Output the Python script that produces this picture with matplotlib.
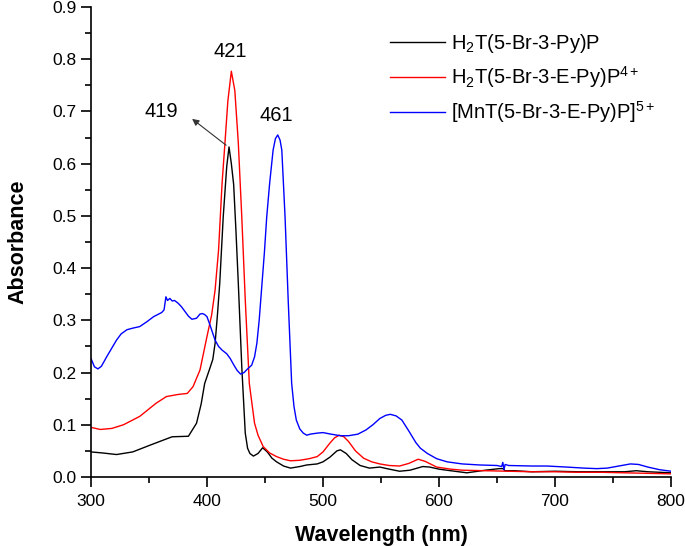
import matplotlib
matplotlib.use("Agg")
import matplotlib.pyplot as plt
from matplotlib.ticker import MultipleLocator

plt.rcParams['font.family'] = ['Liberation Sans', 'DejaVu Sans']
plt.rcParams['mathtext.fontset'] = 'custom'
plt.rcParams['mathtext.rm'] = 'Liberation Sans'
plt.rcParams['mathtext.it'] = 'Liberation Sans:italic'
plt.rcParams['mathtext.bf'] = 'Liberation Sans:bold'

black_wl = [300, 310, 322, 336, 351, 364, 370, 384, 391, 395, 398, 402, 405, 407, 409, 411, 414, 417, 419,
            421, 423, 425, 427, 430, 433, 435, 437, 440, 444, 448, 452, 456, 460, 466, 472, 480, 486, 495,
            500, 506, 512, 515, 520, 525, 532, 540, 549, 555, 566, 575, 586, 592, 600, 610, 624, 640, 652,
            655, 657, 665, 680, 700, 720, 740, 760, 770, 780, 800]
black_abs = [0.048, 0.046, 0.043, 0.048, 0.061, 0.072, 0.077, 0.078, 0.103, 0.140, 0.179, 0.205, 0.225,
             0.256, 0.310, 0.371, 0.498, 0.594, 0.632, 0.600, 0.560, 0.470, 0.371, 0.211, 0.084, 0.055,
             0.045, 0.040, 0.045, 0.056, 0.048, 0.036, 0.029, 0.021, 0.017, 0.020, 0.023, 0.025, 0.029,
             0.038, 0.050, 0.052, 0.045, 0.033, 0.022, 0.017, 0.019, 0.016, 0.011, 0.013, 0.020, 0.019,
             0.015, 0.012, 0.008, 0.013, 0.016, 0.016, 0.012, 0.012, 0.010, 0.011, 0.010, 0.010, 0.010,
             0.012, 0.010, 0.008]

red_wl = [300, 308, 318, 328, 342, 356, 365, 375, 383, 388, 394, 400, 404, 407, 410, 413, 415.5, 418, 421,
          424, 427, 430, 433, 436.5, 441, 444, 448.5, 454, 460, 466, 472, 480, 488, 495, 500, 506, 510, 514,
          518, 522, 528, 535, 542, 549, 557, 566, 574, 582, 588, 598, 610, 620, 640, 660, 680, 700, 720,
          740, 760, 780, 800]
red_abs = [0.095, 0.091, 0.093, 0.100, 0.116, 0.141, 0.154, 0.158, 0.160, 0.173, 0.205, 0.269, 0.310,
           0.358, 0.435, 0.562, 0.640, 0.720, 0.777, 0.740, 0.640, 0.498, 0.339, 0.179, 0.103, 0.080,
           0.058, 0.046, 0.039, 0.034, 0.031, 0.032, 0.035, 0.039, 0.048, 0.065, 0.075, 0.080, 0.077,
           0.068, 0.050, 0.036, 0.029, 0.025, 0.022, 0.021, 0.026, 0.034, 0.030, 0.019, 0.015, 0.013,
           0.012, 0.011, 0.010, 0.010, 0.009, 0.009, 0.008, 0.007, 0.006]

blue_wl = [300, 303, 306, 309, 313.5, 318, 322, 326, 331, 336, 342, 348, 354, 361, 363, 364.6, 366, 368,
           370, 372, 375, 378, 381, 384, 387, 391, 394, 396, 398, 400, 402.6, 405, 407, 410, 413, 417, 420,
           423, 426, 429, 432, 435, 438.5, 441, 443, 445, 447, 449.5, 451.5, 454, 457, 459, 461, 463, 464.5,
           467.3, 470, 473, 475, 477, 480, 483, 486, 489, 495, 500, 507, 515, 522, 530, 537, 543, 549, 554,
           558, 563, 568, 574, 580, 584, 590, 598, 607, 620, 635, 650, 654, 655, 656, 657, 660, 680, 693,
           710, 725, 736, 745, 755, 765, 772, 780, 790, 800]
blue_abs = [0.227, 0.211, 0.207, 0.212, 0.230, 0.247, 0.262, 0.274, 0.282, 0.285, 0.288, 0.297, 0.307,
            0.315, 0.320, 0.345, 0.338, 0.342, 0.337, 0.338, 0.333, 0.326, 0.317, 0.308, 0.302, 0.304,
            0.312, 0.313, 0.311, 0.307, 0.291, 0.275, 0.262, 0.250, 0.243, 0.236, 0.227, 0.215, 0.204,
            0.197, 0.200, 0.207, 0.214, 0.230, 0.256, 0.300, 0.358, 0.430, 0.498, 0.562, 0.626, 0.648,
            0.655, 0.645, 0.626, 0.498, 0.339, 0.179, 0.135, 0.109, 0.092, 0.084, 0.080, 0.082, 0.084,
            0.085, 0.082, 0.079, 0.079, 0.082, 0.090, 0.100, 0.112, 0.118, 0.120, 0.117, 0.109, 0.088,
            0.066, 0.055, 0.045, 0.035, 0.029, 0.025, 0.023, 0.022, 0.020, 0.028, 0.014, 0.024, 0.022,
            0.021, 0.021, 0.019, 0.017, 0.016, 0.017, 0.021, 0.025, 0.024, 0.019, 0.014, 0.011]

labels = [r'H$_2$T(5-Br-3-Py)P', r'H$_2$T(5-Br-3-E-Py)P$^{4+}$', r'[MnT(5-Br-3-E-Py)P]$^{5+}$']
colors = ['black', 'red', 'blue']

fig = plt.figure(figsize=(6.85, 5.46), dpi=100)
ax = fig.add_axes([0.1328, 0.1264, 0.8468, 0.8608])

for wl, ab, lab, c in zip([black_wl, red_wl, blue_wl], [black_abs, red_abs, blue_abs], labels, colors):
    ax.plot(wl, ab, color=c, lw=1.0, label=lab)

ax.set_xlim(300, 800)
ax.set_ylim(0, 0.9)
ax.xaxis.set_major_locator(MultipleLocator(100))
ax.xaxis.set_minor_locator(MultipleLocator(50))
ax.yaxis.set_major_locator(MultipleLocator(0.1))
ax.yaxis.set_minor_locator(MultipleLocator(0.05))
ax.yaxis.set_major_formatter(plt.FormatStrFormatter('%.1f'))
ax.tick_params(which='major', direction='out', length=7, width=1.2, labelsize=12.5, pad=3.5)
ax.tick_params(axis='x', which='major', pad=5)
ax.tick_params(which='minor', direction='out', length=4, width=1.2)
ax.spines['top'].set_visible(False)
ax.spines['right'].set_visible(False)
ax.spines['left'].set_linewidth(1.2)
ax.spines['bottom'].set_linewidth(1.2)

ax.set_xlabel('Wavelength (nm)', fontsize=15.5, fontweight='bold', labelpad=12)
ax.set_ylabel('Absorbance', fontsize=15.5, fontweight='bold', labelpad=17)

ax.text(420.4, 0.814, '421', fontsize=14.5, ha='center', va='center')
ax.text(459.5, 0.693, '461', fontsize=14.5, ha='center', va='center')
ax.text(361, 0.700, '419', fontsize=14.5, ha='center', va='center')
ax.annotate('', xy=(385.3, 0.689), xytext=(418.4, 0.632),
            arrowprops=dict(arrowstyle='-|>', color='#333333', lw=0.8, mutation_scale=10))

ax.legend(loc='upper left', bbox_to_anchor=(0.515, 0.947), frameon=False, fontsize=14.5,
          handlelength=2.73, handletextpad=0.3, labelspacing=0.45, borderaxespad=0,
          borderpad=0)

fig.savefig('out.png', dpi=100)
